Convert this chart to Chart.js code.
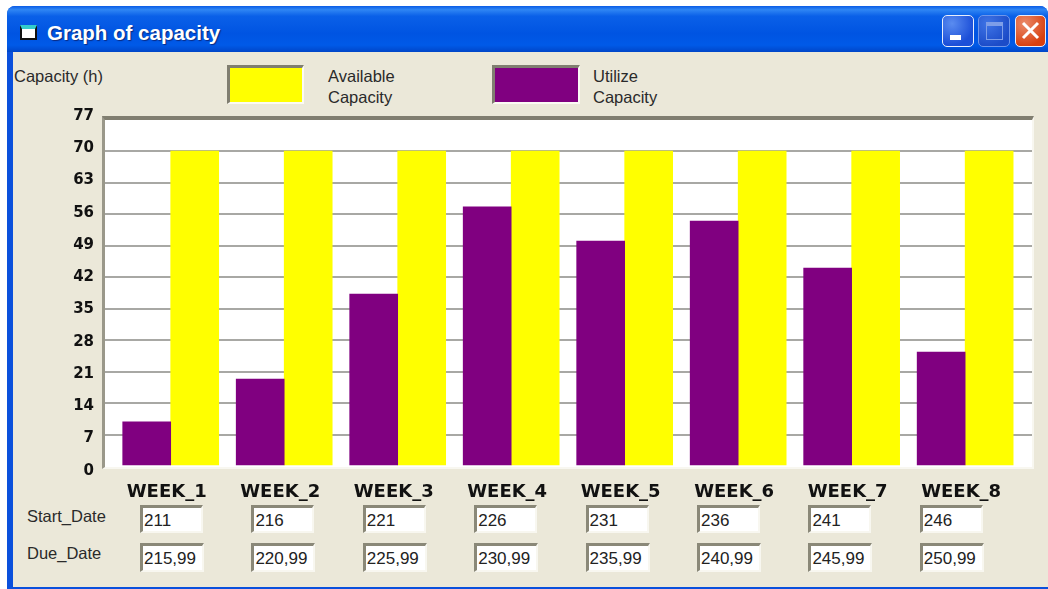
<!DOCTYPE html>
<html>
<head>
<meta charset="utf-8">
<title>Graph of capacity</title>
<script src="https://cdn.jsdelivr.net/npm/chart.js@4"></script>
<style>
    html, body { margin: 0; padding: 0; background: #fff; }
    body { width: 1048px; height: 589px; position: relative; overflow: hidden; font-family: "Liberation Sans", sans-serif; color: #2a2a2a; }
    div, span { position: absolute; box-sizing: border-box; }
    #window { left: 7px; top: 6px; width: 1041px; height: 583px; background: #0a50dc; border-radius: 8px 8px 0 0; }
    #face { left: 13px; top: 52px; width: 1035px; height: 535px; background: #ebe8d9; }
    #titlebar { left: 7px; top: 6px; width: 1041px; height: 46px; border-radius: 8px 8px 0 0;
        background: linear-gradient(#0a5ce6 0%, #2f86f4 8%, #0a60e8 22%, #0054e2 60%, #005ae8 85%, #0046c8 100%); }
    #title { left: 47px; top: 21px; color: #fff; font: bold 20.5px "Liberation Sans", sans-serif; text-shadow: 1px 1px 1px #0a2a80; white-space: nowrap; }
    #icon { left: 20px; top: 25px; width: 17px; height: 15px; background: #fff; border: 2px solid #111; border-top: 4px solid #3cc; }
    .btn { top: 15px; width: 32px; height: 32px; border: 1.5px solid #e8eefc; border-radius: 5px; }
    #btnMin { left: 942px; background: radial-gradient(circle at 30% 25%, #5a8cf0, #1c4fd8 70%); }
    #btnMin div { left: 7px; top: 19px; width: 11px; height: 5px; background: #fff; }
    #btnMax { left: 978px; border-color: #6f96ea; background: radial-gradient(circle at 30% 25%, #3f74e6, #1c4cc8 75%); }
    #btnMax div { left: 7px; top: 6px; width: 17px; height: 18px; border: 1.5px solid #7e9ee8; border-top-width: 4px; }
    #btnClose { left: 1015px; width: 31px; background: radial-gradient(circle at 30% 25%, #ea8a6a, #d8400f 75%); }
    #btnClose svg { position: absolute; left: 5px; top: 5px; }
    #frame { left: 102px; top: 116px; width: 932px; height: 353px; background: #fff;
        border-top: 4px solid #807e70; border-left: 3px solid #9a988a; border-right: 2px solid #f8f7f0; border-bottom: 2px solid #f8f7f0; }
    #chartWrap { left: 0; top: 0; width: 1048px; height: 589px; }
    .lbl { font-size: 16.5px; white-space: nowrap; line-height: 20px; }
    .chip { border-top: 3px solid #807e70; border-left: 3px solid #807e70; border-right: 2px solid #fbfaf4; border-bottom: 2px solid #fbfaf4; }
    .box { height: 28px; background: #fff; font-size: 17px; line-height: 25px; padding-left: 1px; color: #222;
        border-top: 3px solid #8a8878; border-left: 3px solid #8a8878; border-right: 2px solid #f8f7f0; border-bottom: 2px solid #f8f7f0; white-space: nowrap; }
</style>
</head>
<body>
<div id="window"></div>
<div id="face"></div>
<div id="titlebar"></div>
<div id="icon"></div>
<div id="title">Graph of capacity</div>
<div class="btn" id="btnMin"><div></div></div>
<div class="btn" id="btnMax"><div></div></div>
<div class="btn" id="btnClose">
    <svg width="19" height="19"><path d="M2 2L17 17M17 2L2 17" stroke="#fff" stroke-width="3"/></svg>
</div>

<div class="lbl" style="left:14px;top:66px">Capacity (h)</div>

<div class="chip" style="left:227px;top:65px;width:77px;height:39px;background:#ffff00"></div>
<div class="lbl" style="left:328px;top:66px">Available</div>
<div class="lbl" style="left:328px;top:87px">Capacity</div>

<div class="chip" style="left:492px;top:65px;width:88px;height:39px;background:#800080"></div>
<div class="lbl" style="left:593px;top:66px">Utilize</div>
<div class="lbl" style="left:593px;top:87px">Capacity</div>

<div class="lbl" style="left:27px;top:506px">Start_Date</div>
<div class="lbl" style="left:27px;top:543px">Due_Date</div>
<div id="boxes"></div>

<div id="frame"></div>
<div id="chartWrap"><canvas id="myChart" width="1048" height="589"></canvas></div>

<script>
const weeks = ['WEEK_1', 'WEEK_2', 'WEEK_3', 'WEEK_4', 'WEEK_5', 'WEEK_6', 'WEEK_7', 'WEEK_8'];
const utilized = [9.8, 19.3, 38.2, 57.6, 50, 54.4, 44, 25.3];
const available = [70, 70, 70, 70, 70, 70, 70, 70];
const yTicks = [0, 7, 14, 21, 28, 35, 42, 49, 56, 63, 70, 77];
const startDates = ['211', '216', '221', '226', '231', '236', '241', '246'];
const dueDates = ['215,99', '220,99', '225,99', '230,99', '235,99', '240,99', '245,99', '250,99'];

// the text boxes under the chart
const boxes = document.getElementById('boxes');
weeks.forEach((w, i) => {
    const left = 140 + i * 111.4;
    const s = document.createElement('div');
    s.className = 'box';
    s.style.cssText = 'left:' + left + 'px;top:505px;width:63px';
    s.textContent = startDates[i];
    boxes.appendChild(s);
    const d = document.createElement('div');
    d.className = 'box';
    d.style.cssText = 'left:' + left + 'px;top:543px;width:64px;height:29px';
    d.textContent = dueDates[i];
    boxes.appendChild(d);
});

const toPoints = (values) => values.map((v, i) => ({ x: i, y: v }));

var ctx = document.getElementById('myChart').getContext('2d');
new Chart(ctx, {
    type: 'bar',
    data: {
        datasets: [{
            label: 'Utilize Capacity',
            data: toPoints(utilized),
            backgroundColor: '#800080',
            barThickness: 48
        },
        {
            label: 'Available Capacity',
            data: toPoints(available),
            backgroundColor: '#ffff00',
            barThickness: 48
        }]
    },
    options: {
        responsive: false,
        animation: false,
        layout: { padding: { top: 119.5, right: 16, left: 0, bottom: 0 } },
        plugins: { legend: { display: false }, tooltip: { enabled: false } },
        scales: {
            x: {
                type: 'linear',
                offset: false,
                bounds: 'data',
                min: -0.579,
                max: 7.589,
                grid: { display: false },
                border: { display: false },
                afterBuildTicks: (scale) => { scale.ticks = weeks.map((w, i) => ({ value: i })); },
                afterFit: (scale) => { scale.height = 123; },
                ticks: {
                    autoSkip: false,
                    maxRotation: 0,
                    padding: 8,
                    labelOffset: -4,
                    color: '#111',
                    font: { family: 'DejaVu Sans', weight: 'bold', size: 18 },
                    callback: (value, index) => weeks[index]
                }
            },
            y: {
                min: 0,
                max: 77,
                border: { display: false },
                grid: {
                    drawTicks: false,
                    lineWidth: 2,
                    color: (c) => (c.tick.value === 0 || c.tick.value === 77) ? 'transparent' : '#a8a8a4'
                },
                afterBuildTicks: (scale) => { scale.ticks = yTicks.map((v) => ({ value: v })); },
                afterFit: (scale) => { scale.width = 0; },
                ticks: { display: false }
            },
            // the numbers in the original sit a little off the grid lines, so they get their own axis
            yLabels: {
                position: 'left',
                min: 1.05,
                max: 76.2,
                border: { display: false },
                grid: { display: false },
                afterBuildTicks: (scale) => { scale.ticks = yTicks.map((v) => ({ value: v })); },
                afterFit: (scale) => { scale.width = 105; },
                ticks: {
                    autoSkip: false,
                    padding: 3,
                    color: '#111',
                    font: { family: 'DejaVu Sans', weight: 'bold', size: 15 }
                }
            }
        }
    }
});
</script>
</body>
</html>
